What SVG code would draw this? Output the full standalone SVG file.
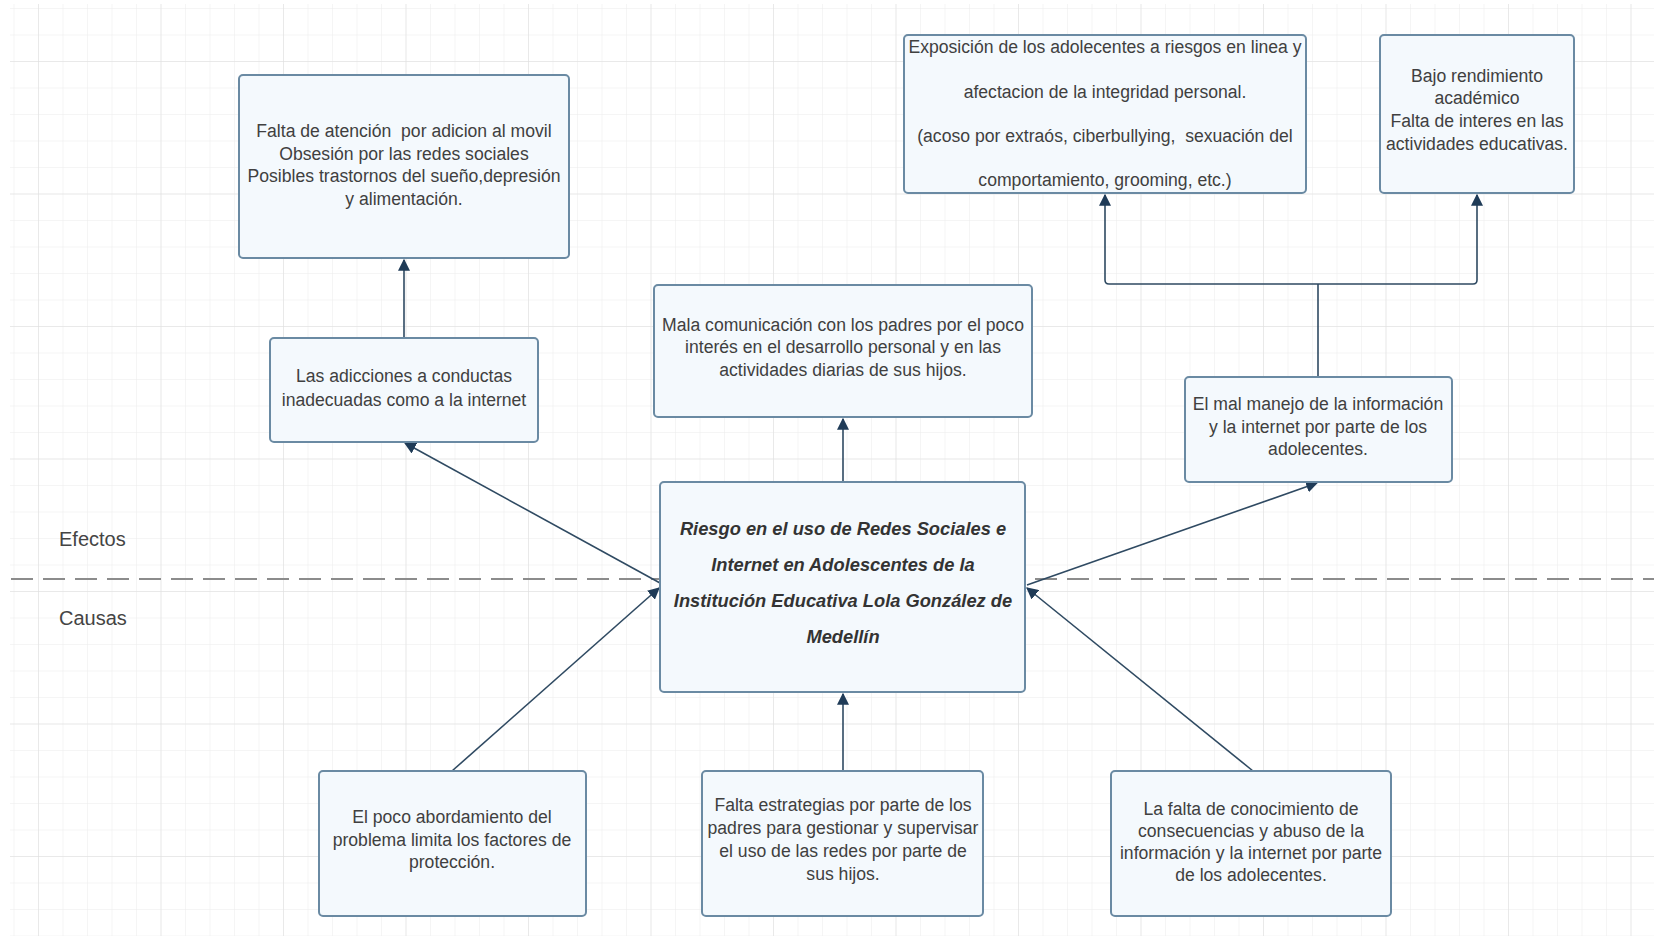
<svg xmlns="http://www.w3.org/2000/svg" width="1654" height="942" viewBox="0 0 1654 942">
<defs>
<pattern id="minor" patternUnits="userSpaceOnUse" x="13.5" y="8" width="24.5" height="26.5">
<path d="M0 0 V26.5 M0 0 H24.5" fill="none" stroke="#ececec" stroke-width="1"/>
</pattern>
<pattern id="major" patternUnits="userSpaceOnUse" x="38" y="61" width="122.5" height="132.5">
<path d="M0 0 V132.5 M0 0 H122.5" fill="none" stroke="#dedede" stroke-width="1"/>
</pattern>
<marker id="arr" viewBox="0 0 10 10" refX="9" refY="5" markerWidth="12" markerHeight="12" markerUnits="userSpaceOnUse" orient="auto">
<path d="M0 0 L10 5 L0 10 z" fill="#1f3b57"/>
</marker>
<style>
.box{fill:#f4f9fd;stroke:#6a8aa3;stroke-width:2}
.t{font-family:"Liberation Sans",Arial,sans-serif;font-size:17.6px;fill:#404040;text-anchor:middle}
.c{font-family:"Liberation Sans",Arial,sans-serif;font-size:18.3px;font-weight:bold;font-style:italic;fill:#333;text-anchor:middle}
.lbl{font-family:"Liberation Sans",Arial,sans-serif;font-size:20px;fill:#444}
.con{fill:none;stroke:#2f4a62;stroke-width:1.6}
</style>
</defs>
<rect width="1654" height="942" fill="#ffffff"/>
<rect x="10" y="4" width="1644" height="932" fill="url(#minor)"/>
<rect x="10" y="4" width="1644" height="932" fill="url(#major)"/>

<line x1="11" y1="579" x2="1654" y2="579" stroke="#8c8c8c" stroke-width="2" stroke-dasharray="22,10"/>

<g id="labels">
<text class="lbl" x="59" y="546">Efectos</text>
<text class="lbl" x="59" y="625">Causas</text>
</g>

<g id="connectors">
<line class="con" x1="404" y1="338" x2="404" y2="260" marker-end="url(#arr)"/>
<line class="con" x1="843" y1="482" x2="843" y2="419" marker-end="url(#arr)"/>
<path class="con" d="M1318 377 V284"/>
<path class="con" d="M1318 284 H1109 Q1105 284 1105 280 V195" marker-end="url(#arr)"/>
<path class="con" d="M1318 284 H1473 Q1477 284 1477 280 V195" marker-end="url(#arr)"/>
<line class="con" x1="660" y1="583" x2="405" y2="443" marker-end="url(#arr)"/>
<line class="con" x1="452" y1="771" x2="659" y2="588" marker-end="url(#arr)"/>
<line class="con" x1="843" y1="771" x2="843" y2="694" marker-end="url(#arr)"/>
<line class="con" x1="1253" y1="771" x2="1027" y2="588" marker-end="url(#arr)"/>
<line class="con" x1="1027" y1="585" x2="1317" y2="483" marker-end="url(#arr)"/>
</g>

<g id="nodeA">
<rect class="box" x="239" y="75" width="330" height="183" rx="4"/>
<text class="t" x="404" y="137" xml:space="preserve">Falta de atención  por adicion al movil</text>
<text class="t" x="404" y="160">Obsesión por las redes sociales</text>
<text class="t" x="404" y="182">Posibles trastornos del sueño,depresión</text>
<text class="t" x="404" y="205">y alimentación.</text>
</g>

<g id="nodeB">
<rect class="box" x="904" y="35" width="402" height="158" rx="4"/>
<text class="t" x="1105" y="53">Exposición de los adolecentes a riesgos en linea y</text>
<text class="t" x="1105" y="98">afectacion de la integridad personal.</text>
<text class="t" x="1105" y="142" xml:space="preserve">(acoso por extraós, ciberbullying,  sexuación del</text>
<text class="t" x="1105" y="186">comportamiento, grooming, etc.)</text>
</g>

<g id="nodeC">
<rect class="box" x="1380" y="35" width="194" height="158" rx="4"/>
<text class="t" x="1477" y="82">Bajo rendimiento</text>
<text class="t" x="1477" y="104">académico</text>
<text class="t" x="1477" y="127">Falta de interes en las</text>
<text class="t" x="1477" y="150">actividades educativas.</text>
</g>

<g id="nodeD">
<rect class="box" x="654" y="285" width="378" height="132" rx="4"/>
<text class="t" x="843" y="331">Mala comunicación con los padres por el poco</text>
<text class="t" x="843" y="353">interés en el desarrollo personal y en las</text>
<text class="t" x="843" y="376">actividades diarias de sus hijos.</text>
</g>

<g id="nodeE">
<rect class="box" x="270" y="338" width="268" height="104" rx="4"/>
<text class="t" x="404" y="382">Las adicciones a conductas</text>
<text class="t" x="404" y="406">inadecuadas como a la internet</text>
</g>

<g id="nodeF">
<rect class="box" x="1185" y="377" width="267" height="105" rx="4"/>
<text class="t" x="1318" y="410">El mal manejo de la información</text>
<text class="t" x="1318" y="433">y la internet por parte de los</text>
<text class="t" x="1318" y="455">adolecentes.</text>
</g>

<g id="nodeCenter">
<rect class="box" x="660" y="482" width="365" height="210" rx="4"/>
<text class="c" x="843" y="535">Riesgo en el uso de Redes Sociales e</text>
<text class="c" x="843" y="571">Internet en Adolescentes de la</text>
<text class="c" x="843" y="607">Institución Educativa Lola González de</text>
<text class="c" x="843" y="643">Medellín</text>
</g>

<g id="nodeH">
<rect class="box" x="319" y="771" width="267" height="145" rx="4"/>
<text class="t" x="452" y="823">El poco abordamiento del</text>
<text class="t" x="452" y="846">problema limita los factores de</text>
<text class="t" x="452" y="868">protección.</text>
</g>

<g id="nodeI">
<rect class="box" x="702" y="771" width="281" height="145" rx="4"/>
<text class="t" x="843" y="811">Falta estrategias por parte de los</text>
<text class="t" x="843" y="834">padres para gestionar y supervisar</text>
<text class="t" x="843" y="857">el uso de las redes por parte de</text>
<text class="t" x="843" y="880">sus hijos.</text>
</g>

<g id="nodeJ">
<rect class="box" x="1111" y="771" width="280" height="145" rx="4"/>
<text class="t" x="1251" y="815">La falta de conocimiento de</text>
<text class="t" x="1251" y="837">consecuencias y abuso de la</text>
<text class="t" x="1251" y="859">información y la internet por parte</text>
<text class="t" x="1251" y="881">de los adolecentes.</text>
</g>
</svg>
